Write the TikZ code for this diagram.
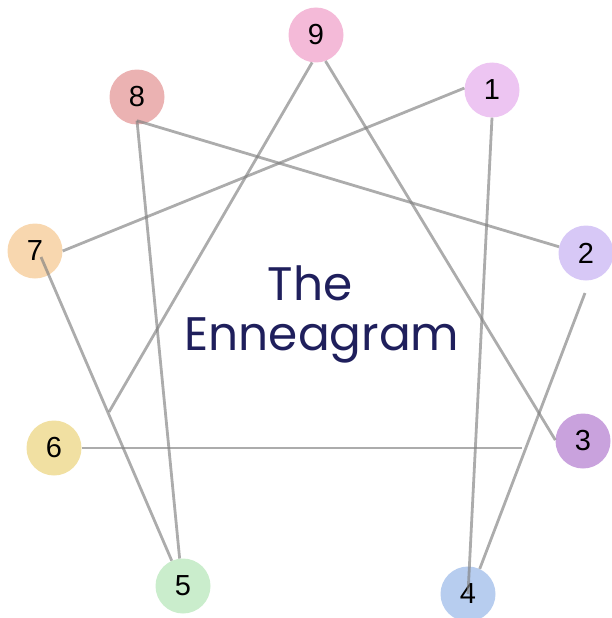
\documentclass[tikz,border=0pt]{standalone}
\usepackage{fontspec}
\setmainfont{Liberation Sans}
\newfontfamily\titlefont{Poppins}

\definecolor{pink9}{HTML}{F4BAD8}
\definecolor{rose8}{HTML}{EBB2B2}
\definecolor{lilac1}{HTML}{EDC5F2}
\definecolor{peach7}{HTML}{F8D7AF}
\definecolor{lavender2}{HTML}{D7C8F6}
\definecolor{sand6}{HTML}{F1E0A2}
\definecolor{purple3}{HTML}{C9A2DD}
\definecolor{mint5}{HTML}{CAEDCC}
\definecolor{sky4}{HTML}{B7CDEF}
\definecolor{navy}{HTML}{1F1F5C}

\begin{document}
\begin{tikzpicture}[x=1pt, y=-1pt,
  point/.style={circle, minimum size=55pt, inner sep=0pt, font=\fontsize{29}{29}\selectfont},
  link/.style={draw=black!50, line width=2.8pt, draw opacity=0.65},
  heading/.style={text=navy, inner sep=0pt, anchor=base, font=\titlefont\fontsize{47}{47}\selectfont},
]
  \useasboundingbox (0,0) rectangle (611,618);
  \node[point, fill=pink9] (n9) at (316,35) {9};
  \node[point, fill=rose8] (n8) at (137,97) {8};
  \node[point, fill=lilac1] (n1) at (492,90) {1};
  \node[point, fill=peach7] (n7) at (35,251) {7};
  \node[point, fill=lavender2] (n2) at (586,253) {2};
  \node[point, fill=sand6] (n6) at (54,448) {6};
  \node[point, fill=purple3] (n3) at (583,441) {3};
  \node[point, fill=mint5] (n5) at (183,586) {5};
  \node[point, fill=sky4] (n4) at (468,594) {4};
  \node[heading] (the) at (310,300) {The};
  \node[heading] (name) at (322,350) {Enneagram};
  \coordinate (e6) at (109,412);
  \coordinate (e3) at (522,448);
  \coordinate (e2) at (585,293);
  \draw[link] (n9.-70) -- (n3.178);
  \draw[link] (n9.-98) -- (e6);
  \draw[link] ([yshift=4pt]n8.south) -- (n2.167);
  \draw[link] ([yshift=4pt]n8.south) -- (n5.97);
  \draw[link] (n1.176) -- (n7.0);
  \draw[link] (n1.south) -- (n4.center);
  \draw[link] ([shift={(6pt,-6pt)}]n7.center) -- (n5.114);
  \draw[link] (n6.east) -- (e3);
  \draw[link] (e2) -- (n4.65);
\end{tikzpicture}
\end{document}
